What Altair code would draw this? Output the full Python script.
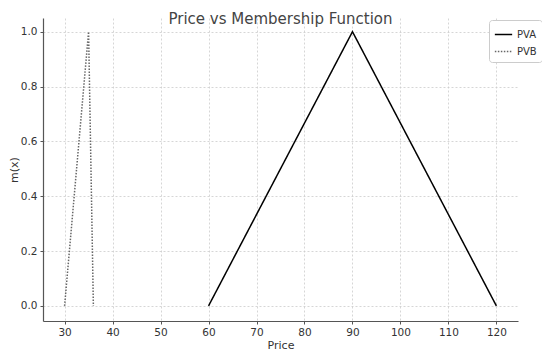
import altair as alt
import pandas as pd

pva_x = [60, 90, 120]
pva_y = [0, 1, 0]
pvb_x = [30, 35, 36]
pvb_y = [0, 1, 0]

df = pd.DataFrame({
    "Price": pva_x + pvb_x,
    "m": pva_y + pvb_y,
    "Series": ["PVA"] * 3 + ["PVB"] * 3,
    "order": [0, 1, 2, 0, 1, 2],
})

x_ticks = [30, 40, 50, 60, 70, 80, 90, 100, 110, 120]
y_ticks = [0.0, 0.2, 0.4, 0.6, 0.8, 1.0]

chart = alt.Chart(df).mark_line(strokeWidth=1.5).encode(
    x=alt.X("Price:Q", title="Price",
            scale=alt.Scale(domain=[25.5, 124.5], nice=False, zero=False),
            axis=alt.Axis(values=x_ticks, format="d")),
    y=alt.Y("m:Q", title="m(x)",
            scale=alt.Scale(domain=[-0.055, 1.05], nice=False, zero=False),
            axis=alt.Axis(values=y_ticks, format=".1f")),
    color=alt.Color("Series:N",
                    scale=alt.Scale(domain=["PVA", "PVB"], range=["#000000", "#666666"]),
                    legend=alt.Legend(title=None, orient="none", legendX=446, legendY=2,
                                      symbolType="stroke", symbolStrokeWidth=1.5,
                                      symbolSize=300, labelFontSize=10,
                                      labelColor="#333333", strokeColor="#cccccc",
                                      fillColor="white", padding=5, cornerRadius=3)),
    strokeDash=alt.StrokeDash("Series:N",
                              scale=alt.Scale(domain=["PVA", "PVB"], range=[[1, 0], [1.5, 1.5]]),
                              legend=None),
    order="order:Q",
).properties(
    width=475,
    height=303,
    title=alt.TitleParams("Price vs Membership Function", fontSize=15, fontWeight="normal",
                          color="#444444", font="DejaVu Sans", offset=-9),
    autosize=alt.AutoSizeParams(type="none"),
    padding={"left": 35, "top": 10, "right": 24, "bottom": 31},
).configure_axis(
    labelFont="DejaVu Sans", titleFont="DejaVu Sans", labelFontSize=10.5, titleFontSize=11,
    titleFontWeight="normal", labelColor="#333333", titleColor="#333333",
    gridColor="#cccccc", gridDash=[2, 2], gridWidth=0.8,
    domainColor="#555555", domainWidth=1.2, tickColor="#555555", tickSize=3,
    labelPadding=3,
).configure_axisX(titlePadding=2).configure_axisY(titlePadding=1).configure_view(
    stroke=None
).configure_legend(labelFont="DejaVu Sans")

chart.save("out.html", embed_options={"renderer": "svg", "actions": False})
